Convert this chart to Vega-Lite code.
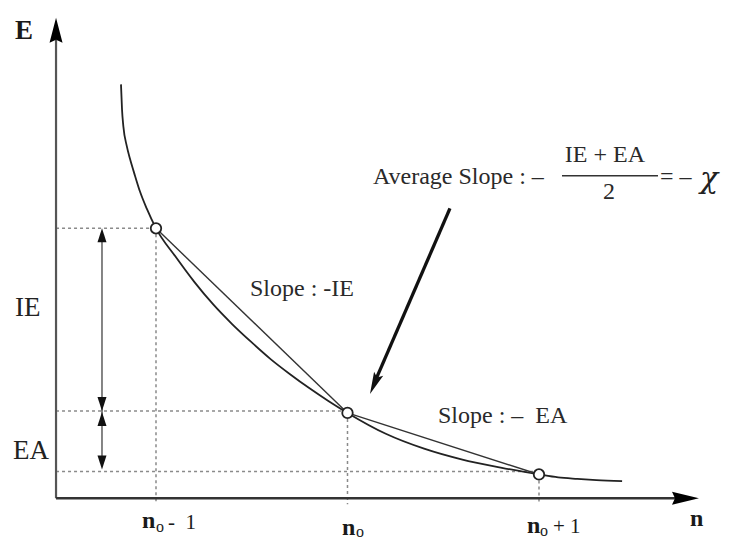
{
  "$schema": "https://vega.github.io/schema/vega-lite/v6.json",
  "width": 729,
  "height": 540,
  "autosize": {"type": "fit", "contains": "padding"},
  "padding": 0,
  "background": "white",
  "config": {"view": {"stroke": null}},
  "datasets": {
    "curve": [
      {"n": 0.8172, "E": 41.7}, {"n": 0.8225, "E": 39.2}, {"n": 0.8294, "E": 37.5},
      {"n": 0.8472, "E": 35.5}, {"n": 0.8642, "E": 34.2}, {"n": 0.8903, "E": 32.5},
      {"n": 0.9164, "E": 30.9}, {"n": 0.9513, "E": 29.2}, {"n": 1.0, "E": 27.2},
      {"n": 1.1, "E": 24.4}, {"n": 1.2, "E": 21.8}, {"n": 1.3, "E": 19.5},
      {"n": 1.4, "E": 17.5}, {"n": 1.5, "E": 15.7}, {"n": 1.6, "E": 14.0},
      {"n": 1.7, "E": 12.5}, {"n": 1.8, "E": 11.1}, {"n": 1.9, "E": 9.8},
      {"n": 2.0, "E": 8.6}, {"n": 2.2, "E": 6.5}, {"n": 2.4, "E": 5.0},
      {"n": 2.6, "E": 3.9}, {"n": 2.8, "E": 3.1}, {"n": 3.0, "E": 2.4},
      {"n": 3.1, "E": 2.1}, {"n": 3.2, "E": 1.95}, {"n": 3.3, "E": 1.83},
      {"n": 3.434, "E": 1.72}
    ],
    "guides": [
      {"n": 0.478, "E": 27.2, "n2": 1, "E2": 27.2},
      {"n": 0.478, "E": 8.8, "n2": 2, "E2": 8.8},
      {"n": 0.478, "E": 2.7, "n2": 3, "E2": 2.7},
      {"n": 1, "E": 27.2, "n2": 1, "E2": -0.6},
      {"n": 2, "E": 8.6, "n2": 2, "E2": -0.6},
      {"n": 3, "E": 2.4, "n2": 3, "E2": -0.6}
    ],
    "chords": [
      {"n": 1, "E": 27.2, "n2": 2, "E2": 8.6},
      {"n": 2, "E": 8.6, "n2": 3, "E2": 2.4}
    ],
    "points": [
      {"n": 1, "E": 27.2}, {"n": 2, "E": 8.6}, {"n": 3, "E": 2.4}
    ]
  },
  "encoding": {
    "x": {"field": "n", "type": "quantitative", "scale": {"domain": [0.1854, 3.9922], "nice": false, "zero": false}, "axis": null},
    "y": {"field": "E", "type": "quantitative", "scale": {"domain": [-3.8, 50.2], "nice": false, "zero": false}, "axis": null}
  },
  "layer": [
    {
      "data": {"name": "guides"},
      "mark": {"type": "rule", "color": "#8a8a8a", "strokeWidth": 1.5, "strokeDash": [3, 3]},
      "encoding": {"x2": {"field": "n2"}, "y2": {"field": "E2"}}
    },
    {
      "data": {"values": [{"n": 0.478, "E": 0, "n2": 0.478, "E2": 46.2}]},
      "mark": {"type": "rule", "color": "#555555", "strokeWidth": 2.2},
      "encoding": {"x2": {"field": "n2"}, "y2": {"field": "E2"}}
    },
    {
      "data": {"values": [{"n": 0.478, "E": 0, "n2": 3.72, "E2": 0}]},
      "mark": {"type": "rule", "color": "#333333", "strokeWidth": 2.5},
      "encoding": {"x2": {"field": "n2"}, "y2": {"field": "E2"}}
    },
    {
      "data": {"name": "curve"},
      "mark": {"type": "line", "interpolate": "monotone", "color": "#222222", "strokeWidth": 1.8},
      "encoding": {}
    },
    {
      "data": {"name": "chords"},
      "mark": {"type": "rule", "color": "#333333", "strokeWidth": 1.4},
      "encoding": {"x2": {"field": "n2"}, "y2": {"field": "E2"}}
    },
    {
      "data": {"values": [{"n": 0.718, "E": 26.5, "n2": 0.718, "E2": 3.3}]},
      "mark": {"type": "rule", "color": "#333333", "strokeWidth": 1.2},
      "encoding": {"x2": {"field": "n2"}, "y2": {"field": "E2"}}
    },
    {
      "data": {"values": [{"n": 2.535, "E": 29.2, "n2": 2.149, "E2": 12.0}]},
      "mark": {"type": "rule", "color": "#111111", "strokeWidth": 3.3},
      "encoding": {"x2": {"field": "n2"}, "y2": {"field": "E2"}}
    },
    {
      "data": {"values": [{"n": 3.1201, "E": 32.5, "n2": 3.6214, "E2": 32.5}]},
      "mark": {"type": "rule", "color": "#333333", "strokeWidth": 1.4},
      "encoding": {"x2": {"field": "n2"}, "y2": {"field": "E2"}}
    },
    {
      "data": {"values": [{"n": 0.718, "E": 27.2}, {"n": 0.718, "E": 8.7}]},
      "mark": {"type": "point", "shape": "M0,0L4.5,14L-4.5,14Z", "size": 4, "filled": true, "color": "#111111", "opacity": 1, "strokeWidth": 0},
      "encoding": {}
    },
    {
      "data": {"values": [{"n": 0.718, "E": 8.8}, {"n": 0.718, "E": 2.9}]},
      "mark": {"type": "point", "shape": "M0,0L4.5,-14L-4.5,-14Z", "size": 4, "filled": true, "color": "#111111", "opacity": 1, "strokeWidth": 0},
      "encoding": {}
    },
    {
      "data": {"values": [{"n": 0.478, "E": 48.4}]},
      "mark": {"type": "point", "shape": "M0,0L6.5,25L0,22L-6.5,25Z", "size": 4, "filled": true, "color": "#000000", "opacity": 1, "strokeWidth": 0},
      "encoding": {}
    },
    {
      "data": {"values": [{"n": 3.8355, "E": 0}]},
      "mark": {"type": "point", "shape": "M0,0L-27,-6.5L-24,0L-27,6.5Z", "size": 4, "filled": true, "color": "#000000", "opacity": 1, "strokeWidth": 0},
      "encoding": {}
    },
    {
      "data": {"values": [{"n": 2.1175, "E": 10.5}]},
      "mark": {"type": "point", "shape": "M0,0L13.2,-18.2L7.1,-16.5L4.1,-22.2Z", "size": 4, "filled": true, "color": "#111111", "opacity": 1, "strokeWidth": 0},
      "encoding": {}
    },
    {
      "data": {"name": "points"},
      "mark": {"type": "point", "shape": "circle", "size": 110, "filled": false, "fill": "white", "stroke": "#222222", "strokeWidth": 1.8, "opacity": 1},
      "encoding": {}
    },
    {
      "data": {"values": [
        {"label": "E", "n": 0.2637, "E": 46.3}
      ]},
      "mark": {"type": "text", "align": "left", "baseline": "alphabetic", "font": "Liberation Serif", "fontWeight": "bold", "fontSize": 27, "color": "#1a1a1a"},
      "encoding": {"text": {"field": "label"}}
    },
    {
      "data": {"values": [
        {"label": "n", "n": 0.9269, "E": -3.0},
        {"label": "n", "n": 1.9713, "E": -3.7},
        {"label": "n", "n": 2.9373, "E": -3.5},
        {"label": "n", "n": 3.7885, "E": -2.8}
      ]},
      "mark": {"type": "text", "align": "left", "baseline": "alphabetic", "font": "Liberation Serif", "fontWeight": "bold", "fontSize": 24, "color": "#1a1a1a"},
      "encoding": {"text": {"field": "label"}}
    },
    {
      "data": {"values": [
        {"label": "IE", "n": 0.2637, "E": 18.4},
        {"label": "EA", "n": 0.2533, "E": 4.0}
      ]},
      "mark": {"type": "text", "align": "left", "baseline": "alphabetic", "font": "Liberation Serif", "fontSize": 27, "color": "#222222"},
      "encoding": {"text": {"field": "label"}}
    },
    {
      "data": {"values": [
        {"label": "Slope : -IE", "n": 1.4909, "E": 20.4},
        {"label": "Slope : –\u00a0 EA", "n": 2.4726, "E": 7.6},
        {"label": "Average Slope : –", "n": 2.1332, "E": 31.7},
        {"label": "IE + EA", "n": 3.135, "E": 33.9},
        {"label": "2", "n": 3.3342, "E": 30.2},
        {"label": "= –", "n": 3.6319, "E": 31.7}
      ]},
      "mark": {"type": "text", "align": "left", "baseline": "alphabetic", "font": "Liberation Serif", "fontSize": 24, "color": "#2a2a2a"},
      "encoding": {"text": {"field": "label"}}
    },
    {
      "data": {"values": [
        {"label": "-\u00a0 1", "n": 1.063, "E": -3.1},
        {"label": "+ 1", "n": 3.0731, "E": -3.5}
      ]},
      "mark": {"type": "text", "align": "left", "baseline": "alphabetic", "font": "Liberation Serif", "fontSize": 21, "color": "#1a1a1a"},
      "encoding": {"text": {"field": "label"}}
    },
    {
      "data": {"values": [
        {"label": "o", "n": 1.0, "E": -3.4},
        {"label": "o", "n": 2.0444, "E": -3.9},
        {"label": "o", "n": 3.0052, "E": -3.8}
      ]},
      "mark": {"type": "text", "align": "left", "baseline": "alphabetic", "font": "Liberation Serif", "fontSize": 16, "color": "#1a1a1a"},
      "encoding": {"text": {"field": "label"}}
    },
    {
      "data": {"values": [{"label": "χ", "n": 3.8407, "E": 31.3}]},
      "mark": {"type": "text", "align": "left", "baseline": "alphabetic", "font": "DejaVu Serif", "fontStyle": "italic", "fontSize": 30, "color": "#222222"},
      "encoding": {"text": {"field": "label"}}
    }
  ]
}
